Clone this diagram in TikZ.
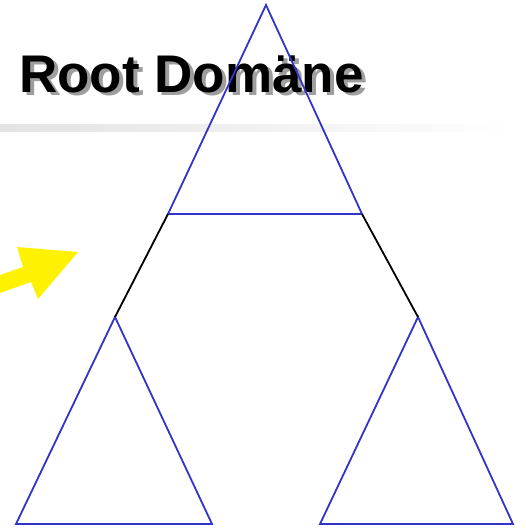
\documentclass[tikz,border=0pt]{standalone}
\usepackage{fontspec}
\setmainfont{Liberation Sans}
\definecolor{treeblue}{RGB}{51,51,204}
\tikzset{
    tri/.style={draw=treeblue, line width=1.8pt, line join=miter},
    link/.style={draw=black, line width=1.8pt},
    titletext/.style={font=\bfseries\fontsize{53}{53}\selectfont, inner sep=0pt, anchor=base west}
}
\begin{document}
\begin{tikzpicture}[x=1pt,y=-1pt]
                \useasboundingbox (0,0) rectangle (526,529) ;
                % title bar
                \shade [left color=black!11, right color=white] (0,125) rectangle (515,132) ;
                \node [titletext, text=black!38] (shadow) at (23,96) {Root Domäne} ;
                \node [titletext] (title) at (19,93) {Root Domäne} ;
                % arrow
                \fill [yellow] (0,275) -- (23,267) -- (17,247) -- (78,252) -- (38,299) -- (31,282) -- (0,293) -- cycle ;
                % corners
                \coordinate (top) at (266,5) ;
                \coordinate (topL) at (168,214) ;
                \coordinate (topR) at (362,214) ;
                \coordinate (left) at (115,317) ;
                \coordinate (leftL) at (16,524) ;
                \coordinate (leftR) at (212,524) ;
                \coordinate (right) at (418,317) ;
                \coordinate (rightL) at (320,524) ;
                \coordinate (rightR) at (513,524) ;
                % triangles
                \draw [tri] (top) -- (topR) -- (topL) -- cycle ;
                \draw [tri] (left) -- (leftR) -- (leftL) -- cycle ;
                \draw [tri] (right) -- (rightR) -- (rightL) -- cycle ;
                % links
                \draw [link] (topL) -- (left) ;
                \draw [link] (topR) -- (right) ;
            \end{tikzpicture}
\end{document}
